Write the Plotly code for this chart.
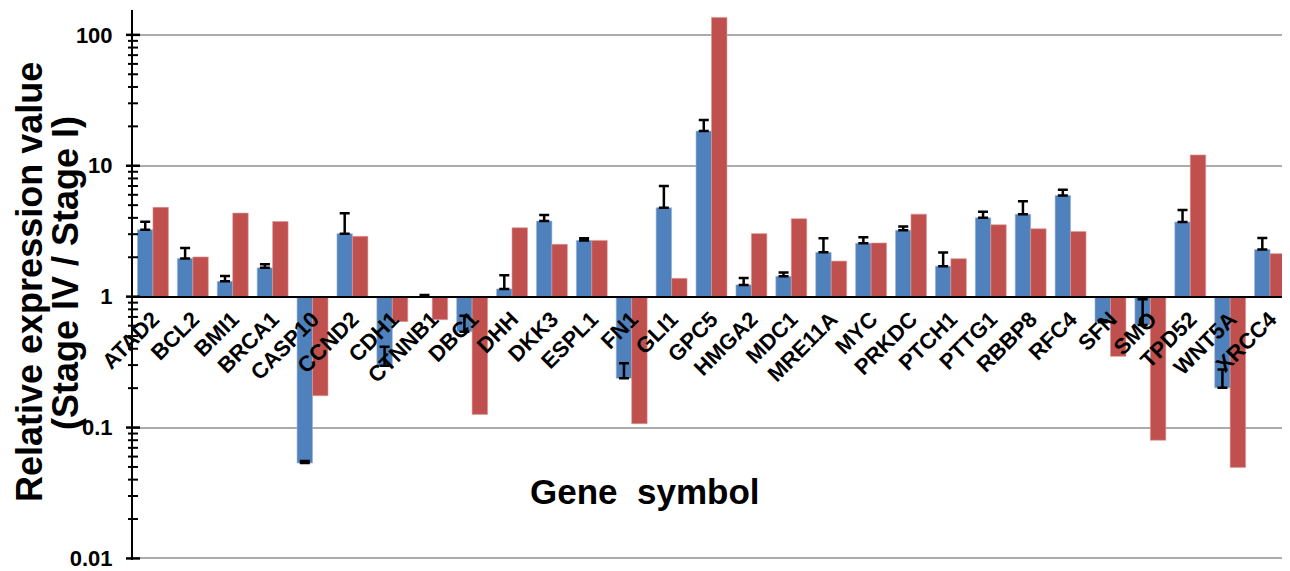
import plotly.graph_objects as go

genes = ["ATAD2", "BCL2", "BMI1", "BRCA1", "CASP10", "CCND2", "CDH1", "CTNNB1", "DBC1",
         "DHH", "DKK3", "ESPL1", "FN1", "GLI1", "GPC5", "HMGA2", "MDC1", "MRE11A", "MYC",
         "PRKDC", "PTCH1", "PTTG1", "RBBP8", "RFC4", "SFN", "SMO", "TPD52", "WNT5A", "XRCC4"]

blue_values = [3.25, 1.96, 1.31, 1.66, 0.0535, 3.03, 0.297, 1.0, 0.54,
               1.145, 3.78, 2.69, 0.238, 4.78, 18.4, 1.23, 1.43, 2.18, 2.56,
               3.21, 1.71, 4.0, 4.27, 5.92, 0.638, 0.608, 3.72, 0.201, 2.29]

blue_errors = [0.49, 0.39, 0.13, 0.11, 0.002, 1.30, 0.118, 0.03, 0.176,
               0.315, 0.42, 0.10, 0.072, 2.22, 4.0, 0.16, 0.10, 0.61, 0.28,
               0.23, 0.46, 0.45, 1.09, 0.65, 0.02, 0.346, 0.88, 0.076, 0.52]

red_values = [4.81, 2.01, 4.35, 3.75, 0.175, 2.89, 0.645, 0.667, 0.126,
              3.36, 2.51, 2.69, 0.107, 1.38, 136.0, 3.03, 3.94, 1.87, 2.57,
              4.27, 1.95, 3.54, 3.30, 3.15, 0.35, 0.08, 12.1, 0.0496, 2.13]

major_ticks = [0.01, 0.1, 1, 10, 100]

BASE = 1.0
BLUE = "#4F81BD"
RED = "#C0504D"
FONT = "Liberation Sans"

# page body has an 8px margin; figure is sized so the plot lands where the reference has it
W, H = 1282, 563
ML, MR, MT, MB = 125, 0, 2, 9
PW, PH = W - ML - MR, H - MT - MB


def px(xp):
    return (xp - 8 - ML) / PW


def py(yp):
    return 1 - (yp - 8 - MT) / PH


fig = go.Figure()
fig.add_trace(go.Bar(
    x=genes, y=[v - BASE for v in blue_values], base=BASE,
    marker=dict(color=BLUE, line=dict(width=0.6, color="#9DB6D8")),
    error_y=dict(type="data", symmetric=False, array=blue_errors,
                 arrayminus=[0] * len(blue_errors), color="black", thickness=2.5, width=5),
    name="blue", showlegend=False))
fig.add_trace(go.Bar(
    x=genes, y=[v - BASE for v in red_values], base=BASE,
    marker=dict(color=RED, line=dict(width=0.6, color="#DA9897")),
    name="red", showlegend=False))

yr = [-2.012, 2.19]

# crossing tick marks on the value axis (major + minor 2..9 per decade)
shapes = []
minor_vals = [m * 10 ** k for k in range(-2, 3) for m in range(2, 10) if m * 10 ** k < 150]
for v in major_ticks:
    shapes.append(dict(type="line", xref="paper", yref="y", xsizemode="pixel", xanchor=0,
                       x0=-7, x1=7, y0=v, y1=v, line=dict(color="black", width=2.5)))
for v in minor_vals:
    shapes.append(dict(type="line", xref="paper", yref="y", xsizemode="pixel", xanchor=0,
                       x0=-5, x1=5, y0=v, y1=v, line=dict(color="black", width=2)))
# category boundary ticks hanging below the baseline at 1
for i in range(len(genes) - 1):
    shapes.append(dict(type="line", xref="x", yref="y", ysizemode="pixel", yanchor=BASE,
                       x0=i + 0.5, x1=i + 0.5, y0=0, y1=-9, line=dict(color="black", width=2.5)))

fig.update_layout(
    width=W, height=H,
    margin=dict(l=ML, r=MR, t=MT, b=MB),
    paper_bgcolor="white", plot_bgcolor="white",
    barmode="group", bargap=0.225, bargroupgap=0,
    xaxis=dict(type="category", range=[-0.5, len(genes) - 0.5],
               anchor="free", position=(0 - yr[0]) / (yr[1] - yr[0]),
               showline=True, linecolor="black", linewidth=2,
               ticks="", tickangle=-45, showgrid=False,
               tickfont=dict(family=FONT, size=22, color="black", weight="bold")),
    yaxis=dict(type="log", range=yr, tickmode="linear", tick0=0, dtick=1,
               ticks="", zeroline=False,
               showgrid=True, gridcolor="#ABABAB", gridwidth=1.5,
               showline=True, linecolor="black", linewidth=2,
               ticklabelstandoff=14, ticklabeloverflow="allow",
               tickfont=dict(family=FONT, size=22, color="black", weight="bold")),
    shapes=shapes,
    annotations=[
        dict(text="Relative expression value", xref="paper", yref="paper",
             x=px(29), y=py(283), xanchor="center", yanchor="middle",
             textangle=-90, showarrow=False,
             font=dict(family=FONT, size=36, color="black", weight="bold")),
        dict(text="(Stage IV / Stage I)", xref="paper", yref="paper",
             x=px(65), y=py(274), xanchor="center", yanchor="middle",
             textangle=-90, showarrow=False,
             font=dict(family=FONT, size=36, color="black", weight="bold")),
        dict(text="Gene&nbsp; symbol", xref="paper", yref="paper",
             x=px(645), y=py(493), xanchor="center", yanchor="middle",
             showarrow=False,
             font=dict(family=FONT, size=35, color="black", weight="bold")),
    ],
)

fig.write_html("out.html")
